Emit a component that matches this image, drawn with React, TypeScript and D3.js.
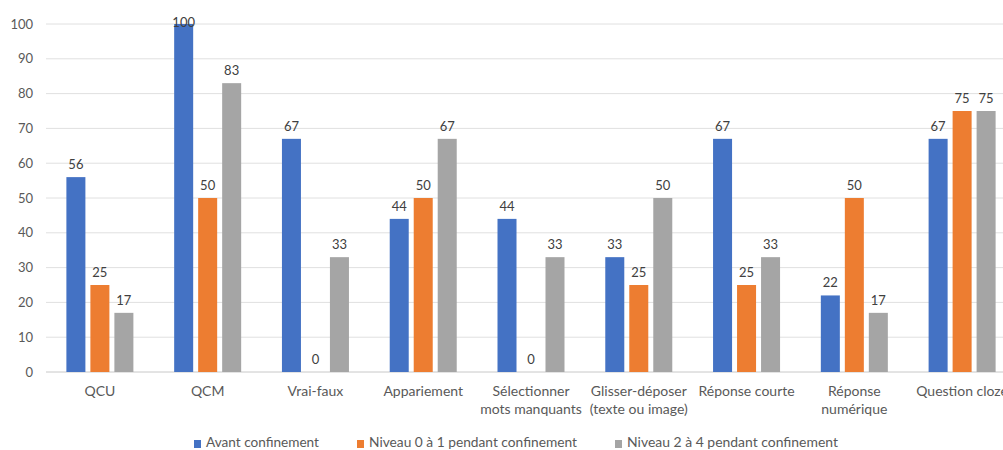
import React from "react";
import * as d3 from "d3";

const categories: string[][] = [
  ["QCU"],
  ["QCM"],
  ["Vrai-faux"],
  ["Appariement"],
  ["Sélectionner", "mots manquants"],
  ["Glisser-déposer", "(texte ou image)"],
  ["Réponse courte"],
  ["Réponse", "numérique"],
  ["Question cloze"],
];
const seriesNames = [
  "Avant confinement",
  "Niveau 0 à 1 pendant confinement",
  "Niveau 2 à 4 pendant confinement",
];
const avant = [56, 100, 67, 44, 44, 33, 67, 22, 67];
const niveau01 = [25, 50, 0, 50, 0, 25, 25, 50, 75];
const niveau24 = [17, 83, 33, 67, 33, 50, 33, 17, 75];
const colors = ["#4472c4", "#ed7d31", "#a5a5a5"];
const yTicks = [0, 10, 20, 30, 40, 50, 60, 70, 80, 90, 100];

const W = 1003;
const H = 450;
const FONT = "Lato, 'Open Sans', sans-serif";

export default function App() {
  const series = [avant, niveau01, niveau24];
  const x = d3
    .scaleBand<number>()
    .domain(categories.map((_, i) => i))
    .range([46, 1016])
    .padding(0);
  const inner = d3
    .scaleBand<number>()
    .domain([0, 1, 2])
    .range([-33.5, 33.5])
    .paddingInner(0.208)
    .paddingOuter(0);
  const y = d3.scaleLinear().domain([0, 100]).range([372, 24]);

  const legendX = [194, 357, 615];
  const legendW = [116, 211, 214];

  return (
    <svg
      width={W}
      height={H}
      style={{ position: "absolute", left: 0, top: 0, background: "#fff" }}
      fontFamily={FONT}
    >
      {yTicks.map((t) => (
        <g key={t}>
          <line
            x1={46}
            x2={W}
            y1={y(t)}
            y2={y(t)}
            stroke={t === 0 ? "#c8c8c8" : "#e0e0e0"}
            strokeWidth={1}
          />
          <text
            x={33}
            y={y(t)}
            dy="0.35em"
            textAnchor="end"
            fontSize={13}
            fill="#595959"
          >
            {t}
          </text>
        </g>
      ))}
      {categories.map((c, i) => {
        const cx = (x(i) ?? 0) + x.bandwidth() / 2;
        return (
          <g key={i}>
            {series.map((s, j) => {
              const bx = cx + (inner(j) ?? 0);
              const v = s[i];
              return (
                <g key={j}>
                  <rect
                    x={bx}
                    y={y(v)}
                    width={inner.bandwidth()}
                    height={y(0) - y(v)}
                    fill={colors[j]}
                  />
                  <text
                    x={bx + inner.bandwidth() / 2}
                    y={Math.max(y(v) - 8, 27)}
                    textAnchor="middle"
                    fontSize={13}
                    fill="#404040"
                  >
                    {v}
                  </text>
                </g>
              );
            })}
            {c.map((line, k) => (
              <text
                key={k}
                x={cx}
                y={396 + k * 18}
                textAnchor="middle"
                fontSize={14}
                fill="#595959"
              >
                {line}
              </text>
            ))}
          </g>
        );
      })}
      {seriesNames.map((n, j) => (
        <g key={n}>
          <rect x={legendX[j]} y={440} width={7} height={8} fill={colors[j]} />
          <text
            x={legendX[j] + 12}
            y={447}
            fontSize={14}
            fill="#595959"
            textLength={legendW[j] - 3}
            lengthAdjust="spacingAndGlyphs"
          >
            {n}
          </text>
        </g>
      ))}
    </svg>
  );
}
